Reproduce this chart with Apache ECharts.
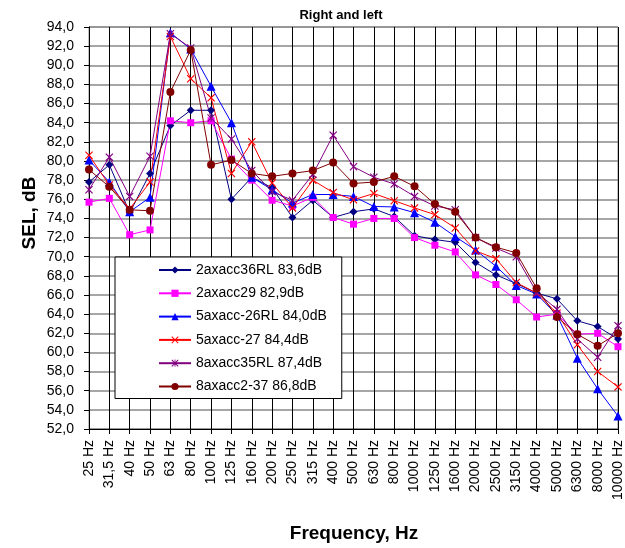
<!DOCTYPE html>
<html>
<head>
<meta charset="utf-8">
<script src="https://cdn.jsdelivr.net/npm/echarts@6/dist/echarts.min.js"></script>
<style>html,body{margin:0;padding:0;background:#fff}#c{width:625px;height:548px}</style>
</head>
<body>
<div id="c"></div>
<script>
var categories = ['25 Hz','31,5 Hz','40 Hz','50 Hz','63 Hz','80 Hz','100 Hz','125 Hz','160 Hz','200 Hz','250 Hz','315 Hz','400 Hz','500 Hz','630 Hz','800 Hz','1000 Hz','1250 Hz','1600 Hz','2000 Hz','2500 Hz','3150 Hz','4000 Hz','5000 Hz','6300 Hz','8000 Hz','10000 Hz'];
var seriesNames = ['2axacc36RL 83,6dB','2axacc29 82,9dB','5axacc-26RL 84,0dB','5axacc-27 84,4dB','8axacc35RL 87,4dB','8axacc2-37 86,8dB'];
var s36RL = [77.8, 79.6, 74.6, 78.7, 83.7, 85.3, 85.3, 76.0, 78.3, 77.2, 74.1, 75.9, 74.1, 74.7, 75.0, 74.2, 72.2, 71.8, 71.5, 69.4, 68.1, 67.2, 66.2, 65.6, 63.3, 62.7, 61.4];
var s29 = [75.7, 76.1, 72.3, 72.8, 84.2, 84.0, 84.2, 80.2, 78.0, 75.9, 75.3, 76.2, 74.1, 73.4, 74.0, 74.0, 72.0, 71.2, 70.5, 68.1, 67.1, 65.5, 63.7, 64.0, 61.9, 62.0, 60.6];
var s26RL = [80.1, 77.8, 74.7, 76.2, 93.4, 91.7, 87.8, 84.0, 78.3, 77.0, 75.6, 76.5, 76.5, 76.3, 75.25, 75.2, 74.6, 73.6, 72.1, 70.7, 69.0, 67.0, 66.1, 63.9, 59.4, 56.2, 53.35];
var s27 = [80.6, 77.5, 75.0, 77.8, 93.0, 88.6, 86.6, 78.7, 82.0, 77.7, 75.1, 78.0, 76.7, 75.95, 76.6, 75.85, 75.1, 74.4, 73.0, 70.6, 69.8, 67.3, 66.2, 64.1, 60.8, 58.0, 56.4];
var s35RL = [77.0, 80.4, 76.3, 80.5, 93.3, 91.8, 84.5, 82.3, 79.0, 76.8, 75.9, 78.6, 82.7, 79.4, 78.3, 77.6, 76.3, 75.3, 74.9, 72.0, 70.9, 70.0, 66.3, 64.5, 61.4, 59.5, 62.8];
var s2_37 = [79.1, 77.3, 74.9, 74.8, 87.2, 91.6, 79.6, 80.1, 78.7, 78.4, 78.7, 79.0, 79.85, 77.65, 77.8, 78.4, 77.35, 75.5, 74.7, 72.0, 71.0, 70.4, 66.7, 63.7, 61.9, 60.7, 62.0];
var seriesData = [s36RL, s29, s26RL, s27, s35RL, s2_37];
var colors = ['#000080','#FF00FF','#0000FF','#FF0000','#800080','#800000'];
var xPath = 'path://M0,1 L1,0 L5,4 L9,0 L10,1 L6,5 L10,9 L9,10 L5,6 L1,10 L0,9 L4,5 Z';
var starPath = 'path://M0,1 L1,0 L5,4 L9,0 L10,1 L6,5 L10,9 L9,10 L5,6 L1,10 L0,9 L4,5 Z M4.4,0 L5.6,0 L5.6,10 L4.4,10 Z';
var symbols = ['diamond','rect','triangle',xPath,starPath,'circle'];
var sizes = [8,7,9,8,8,8];

var chart = echarts.init(document.getElementById('c'));
var FONT = '"Liberation Sans", Arial, sans-serif';
chart.setOption({
  animation: false,
  color: colors,
  textStyle: {fontFamily: FONT},
  title: {text: 'Right and left', left: 336, top: 4, textAlign: 'center',
    textStyle: {fontSize: 13, fontWeight: 'bold', color: '#000', fontFamily: FONT}},
  grid: {left: 89, right: 5, top: 27, bottom: 119, show: true, borderColor: '#888', borderWidth: 1},
  legend: {
    orient: 'vertical', left: 115, top: 257,
    backgroundColor: '#fff', borderColor: '#000', borderWidth: 1,
    padding: [5, 15, 4, 43], itemGap: 7.3, itemWidth: 32, itemHeight: 9,
    textStyle: {fontSize: 14, color: '#000', fontFamily: FONT, lineHeight: 16},
    data: seriesNames
  },
  xAxis: {
    type: 'category', data: categories, boundaryGap: false,
    axisLine: {lineStyle: {color: '#000', width: 1}},
    axisTick: {show: true, length: 5, lineStyle: {color: '#000'}, alignWithLabel: true},
    axisLabel: {rotate: 90, margin: 11, fontSize: 14, color: '#000', fontFamily: FONT, interval: 0},
    splitLine: {show: true, lineStyle: {color: '#000', width: 1}}
  },
  yAxis: {
    type: 'value', min: 52, max: 94, interval: 2,
    axisLine: {show: true, lineStyle: {color: '#000', width: 1}},
    axisTick: {show: true, length: 5, lineStyle: {color: '#000'}},
    axisLabel: {margin: 15, fontSize: 14, color: '#000', fontFamily: FONT,
      formatter: function (v) { return v.toFixed(1).replace('.', ','); }},
    splitLine: {show: true, lineStyle: {color: '#888', width: 1.5}}
  },
  graphic: [
    {type: 'text', x: 30, y: 213, rotation: Math.PI / 2,
      style: {text: 'SEL, dB', font: 'bold 19px ' + FONT, fill: '#000', textAlign: 'center', textVerticalAlign: 'middle'}},
    {type: 'text', x: 354, y: 534,
      style: {text: 'Frequency, Hz', font: 'bold 19px ' + FONT, fill: '#000', textAlign: 'center', textVerticalAlign: 'middle'}}
  ],
  series: seriesData.map(function (d, i) {
    return {
      name: seriesNames[i], type: 'line', data: d,
      symbol: symbols[i], symbolSize: sizes[i], showAllSymbol: true,
      lineStyle: {width: 1, color: colors[i]},
      itemStyle: {color: colors[i]}
    };
  })
});
</script>
</body>
</html>
